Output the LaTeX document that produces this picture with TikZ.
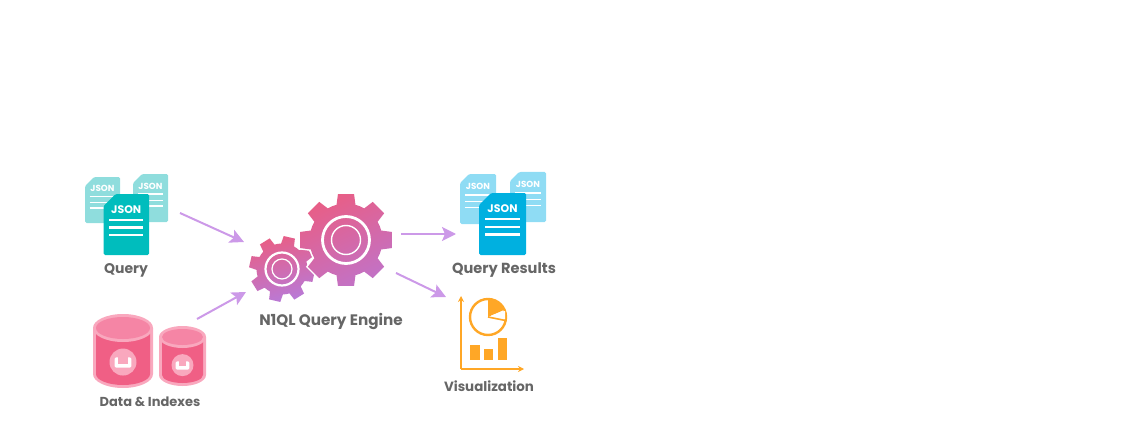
\documentclass[tikz,border=0pt]{standalone}
\usepackage{fontspec}
\setmainfont{Poppins}
\usetikzlibrary{positioning, arrows.meta, calc}

\definecolor{labelgray}{HTML}{666666}
\definecolor{arrowpurple}{HTML}{CC99E8}
\definecolor{querylight}{HTML}{8FDDDD}
\definecolor{querydark}{HTML}{00BDBD}
\definecolor{resultlight}{HTML}{8FDCF4}
\definecolor{resultdark}{HTML}{00B0E0}
\definecolor{dbrim}{HTML}{F9A8BE}
\definecolor{dbbody}{HTML}{F05F85}
\definecolor{dbtop}{HTML}{F585A5}
\definecolor{vizorange}{HTML}{FFA726}
\definecolor{gearpink}{HTML}{E85E86}
\definecolor{gearmauve}{HTML}{C272C6}
\definecolor{gearviolet}{HTML}{B87AD8}

% name, left, top, width, height, cut, font size, colour
\newcommand{\jsondoc}[8]{
    \fill[#8, rounded corners=1.5] (#2+#6,#3) -- (#2+#4,#3) -- (#2+#4,#3+#5) -- (#2,#3+#5) -- (#2,#3+#6) -- cycle;
    \foreach \f in {0.42,0.55,0.67}
        \draw[white, line width=#5/29] (#2+0.13*#4,#3+\f*#5) -- (#2+0.87*#4,#3+\f*#5);
    \node[white, font=\bfseries\fontsize{#7}{#7}\selectfont, inner sep=0] (#1) at (#2+0.5*#4,#3+0.25*#5) {JSON};
}
% centre x, centre y, outer radius, body radius, rotation, start colour, end colour, shading angle
\newcommand{\gearshape}[8]{
    \path[preaction={draw=white, line width=3}, top color=#6, bottom color=#7, shading angle=#8]
        ($(#1,#2)+(#5-15:#4)$)
        \foreach \a in {0,45,...,315} {
            -- ($(#1,#2)+(#5+\a-15:#4)$) -- ($(#1,#2)+(#5+\a-10:#3)$) -- ($(#1,#2)+(#5+\a+10:#3)$)
            -- ($(#1,#2)+(#5+\a+15:#4)$) -- ($(#1,#2)+(#5+\a+22.5:#4)$)
        } -- cycle;
}
% centre x, top centre y, radius x, radius y, height, badge radius
\newcommand{\dbshape}[6]{
    \fill[dbrim] (#1-#3,#2) -- (#1+#3,#2) -- (#1+#3,#2+#5)
        arc[start angle=0, end angle=180, x radius=#3, y radius=#4] -- cycle;
    \fill[dbbody] (#1-#3+3,#2) -- (#1+#3-3,#2) -- (#1+#3-3,#2+#5)
        arc[start angle=0, end angle=180, x radius=#3-3, y radius=#4-3] -- cycle;
    \fill[dbrim] (#1,#2) ellipse[x radius=#3, y radius=#4];
    \fill[dbtop] (#1,#2) ellipse[x radius=#3-3, y radius=#4-3];
    \fill[dbrim] (#1,#2+#5*0.74) circle[radius=#6];
    \fill[white, rounded corners=1.5] (#1-#6*0.62,#2+#5*0.74-#6*0.35) rectangle (#1+#6*0.62,#2+#5*0.74+#6*0.42);
    \fill[dbrim] (#1-#6*0.36,#2+#5*0.74-#6*0.35) rectangle (#1+#6*0.36,#2+#5*0.74+#6*0.12);
}

\begin{document}
\begin{tikzpicture}[
        x=1pt, y=-1pt,
        caption/.style={text=labelgray, font=\bfseries\fontsize{#1}{#1}\selectfont, inner sep=0},
        arrow/.style={-{Stealth[length=14, width=14, inset=3]}, arrowpurple, line width=2},
        vizbar/.style={fill=vizorange},
        vizaxis/.style={-{Stealth[length=6, width=6]}, vizorange, line width=1.8}
    ]
        \useasboundingbox (0,0) rectangle (1146,441);

        % Query
        \jsondoc{jsonqa}{85}{177}{35}{46}{9}{8.8}{querylight}
        \jsondoc{jsonqb}{133}{174}{35}{48}{9}{8.8}{querylight}
        \jsondoc{jsonqc}{103.5}{194}{45.5}{61}{12}{11}{querydark}
        \node[caption=14] (query) at (126,270) {Query};

        % Data
        \dbshape{123}{328}{30}{14}{46}{13.5}
        \dbshape{182.5}{337}{23.5}{11}{38}{11}
        \node[caption=13] (data) at (150,401.5) {Data \& Indexes};

        % Engine
        \gearshape{282}{269}{33}{25.5}{13}{gearpink}{gearviolet}{15}
        \draw[white, line width=2.2] (282,269) circle[radius=16.5];
        \draw[white, line width=1.2] (282,269) circle[radius=10];
        \gearshape{346}{240}{46.5}{36.5}{0}{gearpink}{gearmauve}{25}
        \draw[white, line width=2.8] (346,240) circle[radius=23.5];
        \draw[white, line width=1.4] (346,240) circle[radius=14.5];
        \node[caption=15.2] (engine) at (331,321.5) {N1QL Query Engine};

        % Results
        \jsondoc{jsonra}{460}{174}{36}{50}{9}{8.8}{resultlight}
        \jsondoc{jsonrb}{510}{172}{36}{50}{9}{8.8}{resultlight}
        \jsondoc{jsonrc}{479}{193}{47}{62}{12}{11}{resultdark}
        \node[caption=14.6] (results) at (504,270) {Query Results};

        % Visualization
        \draw[vizaxis] (461,369) -- (461,296);
        \draw[vizaxis] (461,369) -- (524,369);
        \draw[vizorange, line width=2.4] (488,317) circle[radius=18];
        \fill[vizorange] (488,317) -- (488,299) arc[start angle=-90, end angle=-24, radius=18] -- cycle;
        \fill[white] (491,315.5) -- (505,311) -- (505,319) -- cycle;
        \draw[vizorange, line width=1.6] (488,317) -- (505.5,320.5);
        \fill[vizbar] (470,345) rectangle (480,360);
        \fill[vizbar] (484,349) rectangle (493,360);
        \fill[vizbar] (498,338) rectangle (507,360);
        \node[caption=13.4] (viz) at (489,386.5) {Visualization};

        % Flow arrows
        \coordinate (queryout) at (180,213);
        \coordinate (queryin) at (244,242);
        \coordinate (dataout) at (197,319);
        \coordinate (datain) at (246,292);
        \coordinate (resultout) at (401,234);
        \coordinate (resultin) at (456,234);
        \coordinate (vizout) at (396,273);
        \coordinate (vizin) at (446,297);
        \draw[arrow] (queryout) -- (queryin);
        \draw[arrow] (dataout) -- (datain);
        \draw[arrow] (resultout) -- (resultin);
        \draw[arrow] (vizout) -- (vizin);

\end{tikzpicture}
\end{document}
